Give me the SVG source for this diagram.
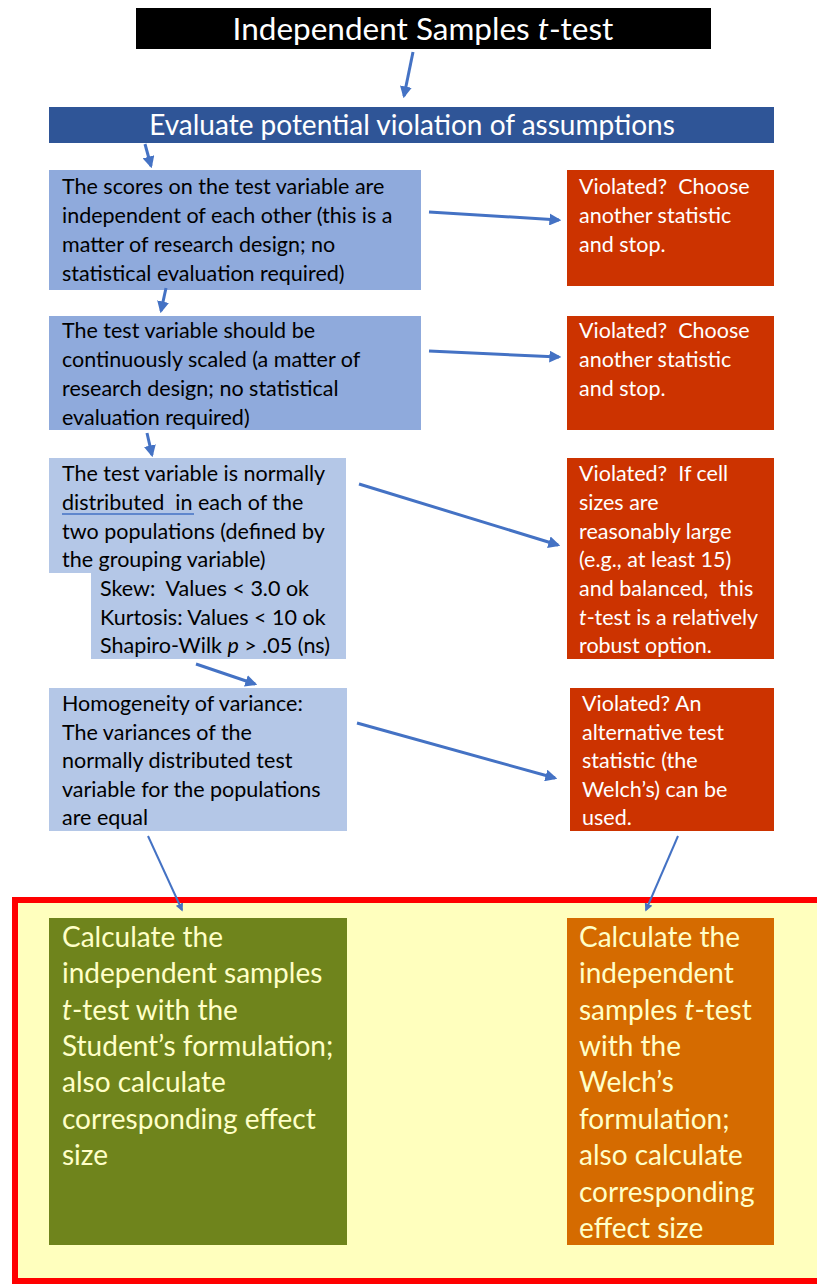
<svg xmlns="http://www.w3.org/2000/svg" width="817" height="1285" viewBox="0 0 817 1285">
<style>
text{font-family:Lato,"Liberation Sans",sans-serif;white-space:pre;}
.t{font-size:21.5px;fill:#000;}
.w{font-size:21.5px;fill:#fff;}
.c{font-size:28px;fill:#FFFFC8;}
.blue1{fill:#8FAADC;}
.blue2{fill:#B4C7E7;}
.red{fill:#CC3300;}
.con{stroke:#4472C4;stroke-width:3;fill:none;marker-end:url(#ah);}
.con2{stroke:#4472C4;stroke-width:2;fill:none;marker-end:url(#ah2);}
</style>
<defs>
<marker id="ah" viewBox="0 0 10 10" refX="8" refY="5" markerWidth="4" markerHeight="4" orient="auto" markerUnits="strokeWidth">
<path d="M0,0 L10,5 L0,10 z" fill="#4472C4"/>
</marker>
<marker id="ah2" viewBox="0 0 10 10" refX="8" refY="5" markerWidth="4" markerHeight="4" orient="auto" markerUnits="strokeWidth">
<path d="M0,0 L10,5 L0,10 z" fill="#4472C4"/>
</marker>
</defs>
<rect x="0" y="0" width="817" height="1285" fill="#fff"/>

<g id="container">
<rect x="15" y="900" width="810" height="381" fill="#FFFFBE" stroke="#FF0000" stroke-width="6"/>
</g>

<g id="title">
<rect x="136" y="8" width="575" height="41" fill="#000"/>
<text x="423" y="40" text-anchor="middle" font-size="31.5" fill="#fff">Independent Samples <tspan font-style="italic">t</tspan>-test</text>
</g>

<g id="banner">
<rect x="49" y="107" width="725" height="36" fill="#2F5597"/>
<text x="412" y="135" text-anchor="middle" font-size="28" fill="#fff">Evaluate potential violation of assumptions</text>
</g>

<g id="box1">
<rect class="blue1" x="49" y="170" width="372" height="120"/>
<text class="t" x="62" y="194">The scores on the test variable are</text>
<text class="t" x="62" y="223">independent of each other (this is a</text>
<text class="t" x="62" y="252">matter of research design; no</text>
<text class="t" x="62" y="281">statistical evaluation required)</text>
</g>

<g id="red1">
<rect class="red" x="567" y="170" width="207" height="116"/>
<text class="w" x="579" y="194">Violated?  Choose</text>
<text class="w" x="579" y="223">another statistic</text>
<text class="w" x="579" y="252">and stop.</text>
</g>

<g id="box2">
<rect class="blue1" x="49" y="316" width="372" height="114"/>
<text class="t" x="62" y="338">The test variable should be</text>
<text class="t" x="62" y="367">continuously scaled (a matter of</text>
<text class="t" x="62" y="396">research design; no statistical</text>
<text class="t" x="62" y="425">evaluation required)</text>
</g>

<g id="red2">
<rect class="red" x="567" y="316" width="207" height="114"/>
<text class="w" x="579" y="338">Violated?  Choose</text>
<text class="w" x="579" y="367">another statistic</text>
<text class="w" x="579" y="396">and stop.</text>
</g>

<g id="box3">
<path class="blue2" d="M49,458 H346 V659 H91 V573 H49 Z"/>
<text class="t" x="62" y="481">The test variable is normally</text>
<text class="t" x="62" y="510">distributed  in each of the</text>
<line x1="62" y1="514" x2="194" y2="514" stroke="#4472C4" stroke-width="1.5"/>
<text class="t" x="62" y="539">two populations (defined by</text>
<text class="t" x="62" y="567">the grouping variable)</text>
<text class="t" x="100" y="596">Skew:  Values &lt; 3.0 ok</text>
<text class="t" x="100" y="625">Kurtosis: Values &lt; 10 ok</text>
<text class="t" x="100" y="653">Shapiro-Wilk <tspan font-style="italic">p</tspan> &gt; .05 (ns)</text>
</g>

<g id="red3">
<rect class="red" x="567" y="458" width="207" height="201"/>
<text class="w" x="579" y="481">Violated?  If cell</text>
<text class="w" x="579" y="510">sizes are</text>
<text class="w" x="579" y="539">reasonably large</text>
<text class="w" x="579" y="567">(e.g., at least 15)</text>
<text class="w" x="579" y="596">and balanced,  this</text>
<text class="w" x="579" y="625"><tspan font-style="italic">t</tspan>-test is a relatively</text>
<text class="w" x="579" y="653">robust option.</text>
</g>

<g id="box4">
<rect class="blue2" x="49" y="688" width="298" height="143"/>
<text class="t" x="62" y="711">Homogeneity of variance:</text>
<text class="t" x="62" y="740">The variances of the</text>
<text class="t" x="62" y="768">normally distributed test</text>
<text class="t" x="62" y="797">variable for the populations</text>
<text class="t" x="62" y="825">are equal</text>
</g>

<g id="red4">
<rect class="red" x="570" y="688" width="204" height="143"/>
<text class="w" x="582" y="711">Violated? An</text>
<text class="w" x="582" y="740">alternative test</text>
<text class="w" x="582" y="768">statistic (the</text>
<text class="w" x="582" y="797">Welch’s) can be</text>
<text class="w" x="582" y="825">used.</text>
</g>

<g id="student">
<rect x="49" y="918" width="298" height="327" fill="#6F841C"/>
<text class="c" x="62" y="947">Calculate the</text>
<text class="c" x="62" y="983">independent samples</text>
<text class="c" x="62" y="1020"><tspan font-style="italic">t</tspan>-test with the</text>
<text class="c" x="62" y="1056">Student’s formulation;</text>
<text class="c" x="62" y="1092">also calculate</text>
<text class="c" x="62" y="1129">corresponding effect</text>
<text class="c" x="62" y="1165">size</text>
</g>

<g id="welch">
<rect x="567" y="918" width="207" height="327" fill="#D56B00"/>
<text class="c" x="579" y="947">Calculate the</text>
<text class="c" x="579" y="983">independent</text>
<text class="c" x="579" y="1020">samples <tspan font-style="italic">t</tspan>-test</text>
<text class="c" x="579" y="1056">with the</text>
<text class="c" x="579" y="1092">Welch’s</text>
<text class="c" x="579" y="1129">formulation;</text>
<text class="c" x="579" y="1165">also calculate</text>
<text class="c" x="579" y="1202">corresponding</text>
<text class="c" x="579" y="1238">effect size</text>
</g>

<g id="connectors">
<line class="con" x1="413" y1="52" x2="404" y2="96"/>
<line class="con" x1="145" y1="144" x2="151" y2="166"/>
<line class="con" x1="429" y1="212" x2="559" y2="220"/>
<line class="con" x1="166" y1="288" x2="161" y2="311"/>
<line class="con" x1="429" y1="351" x2="559" y2="357"/>
<line class="con" x1="147" y1="433" x2="152" y2="455"/>
<line class="con" x1="359" y1="484" x2="558" y2="545"/>
<line class="con" x1="196" y1="664" x2="255" y2="684"/>
<line class="con" x1="357" y1="723" x2="555" y2="778"/>
<line class="con2" x1="148" y1="836" x2="182" y2="910"/>
<line class="con2" x1="678" y1="836" x2="646" y2="910"/>
</g>
</svg>
